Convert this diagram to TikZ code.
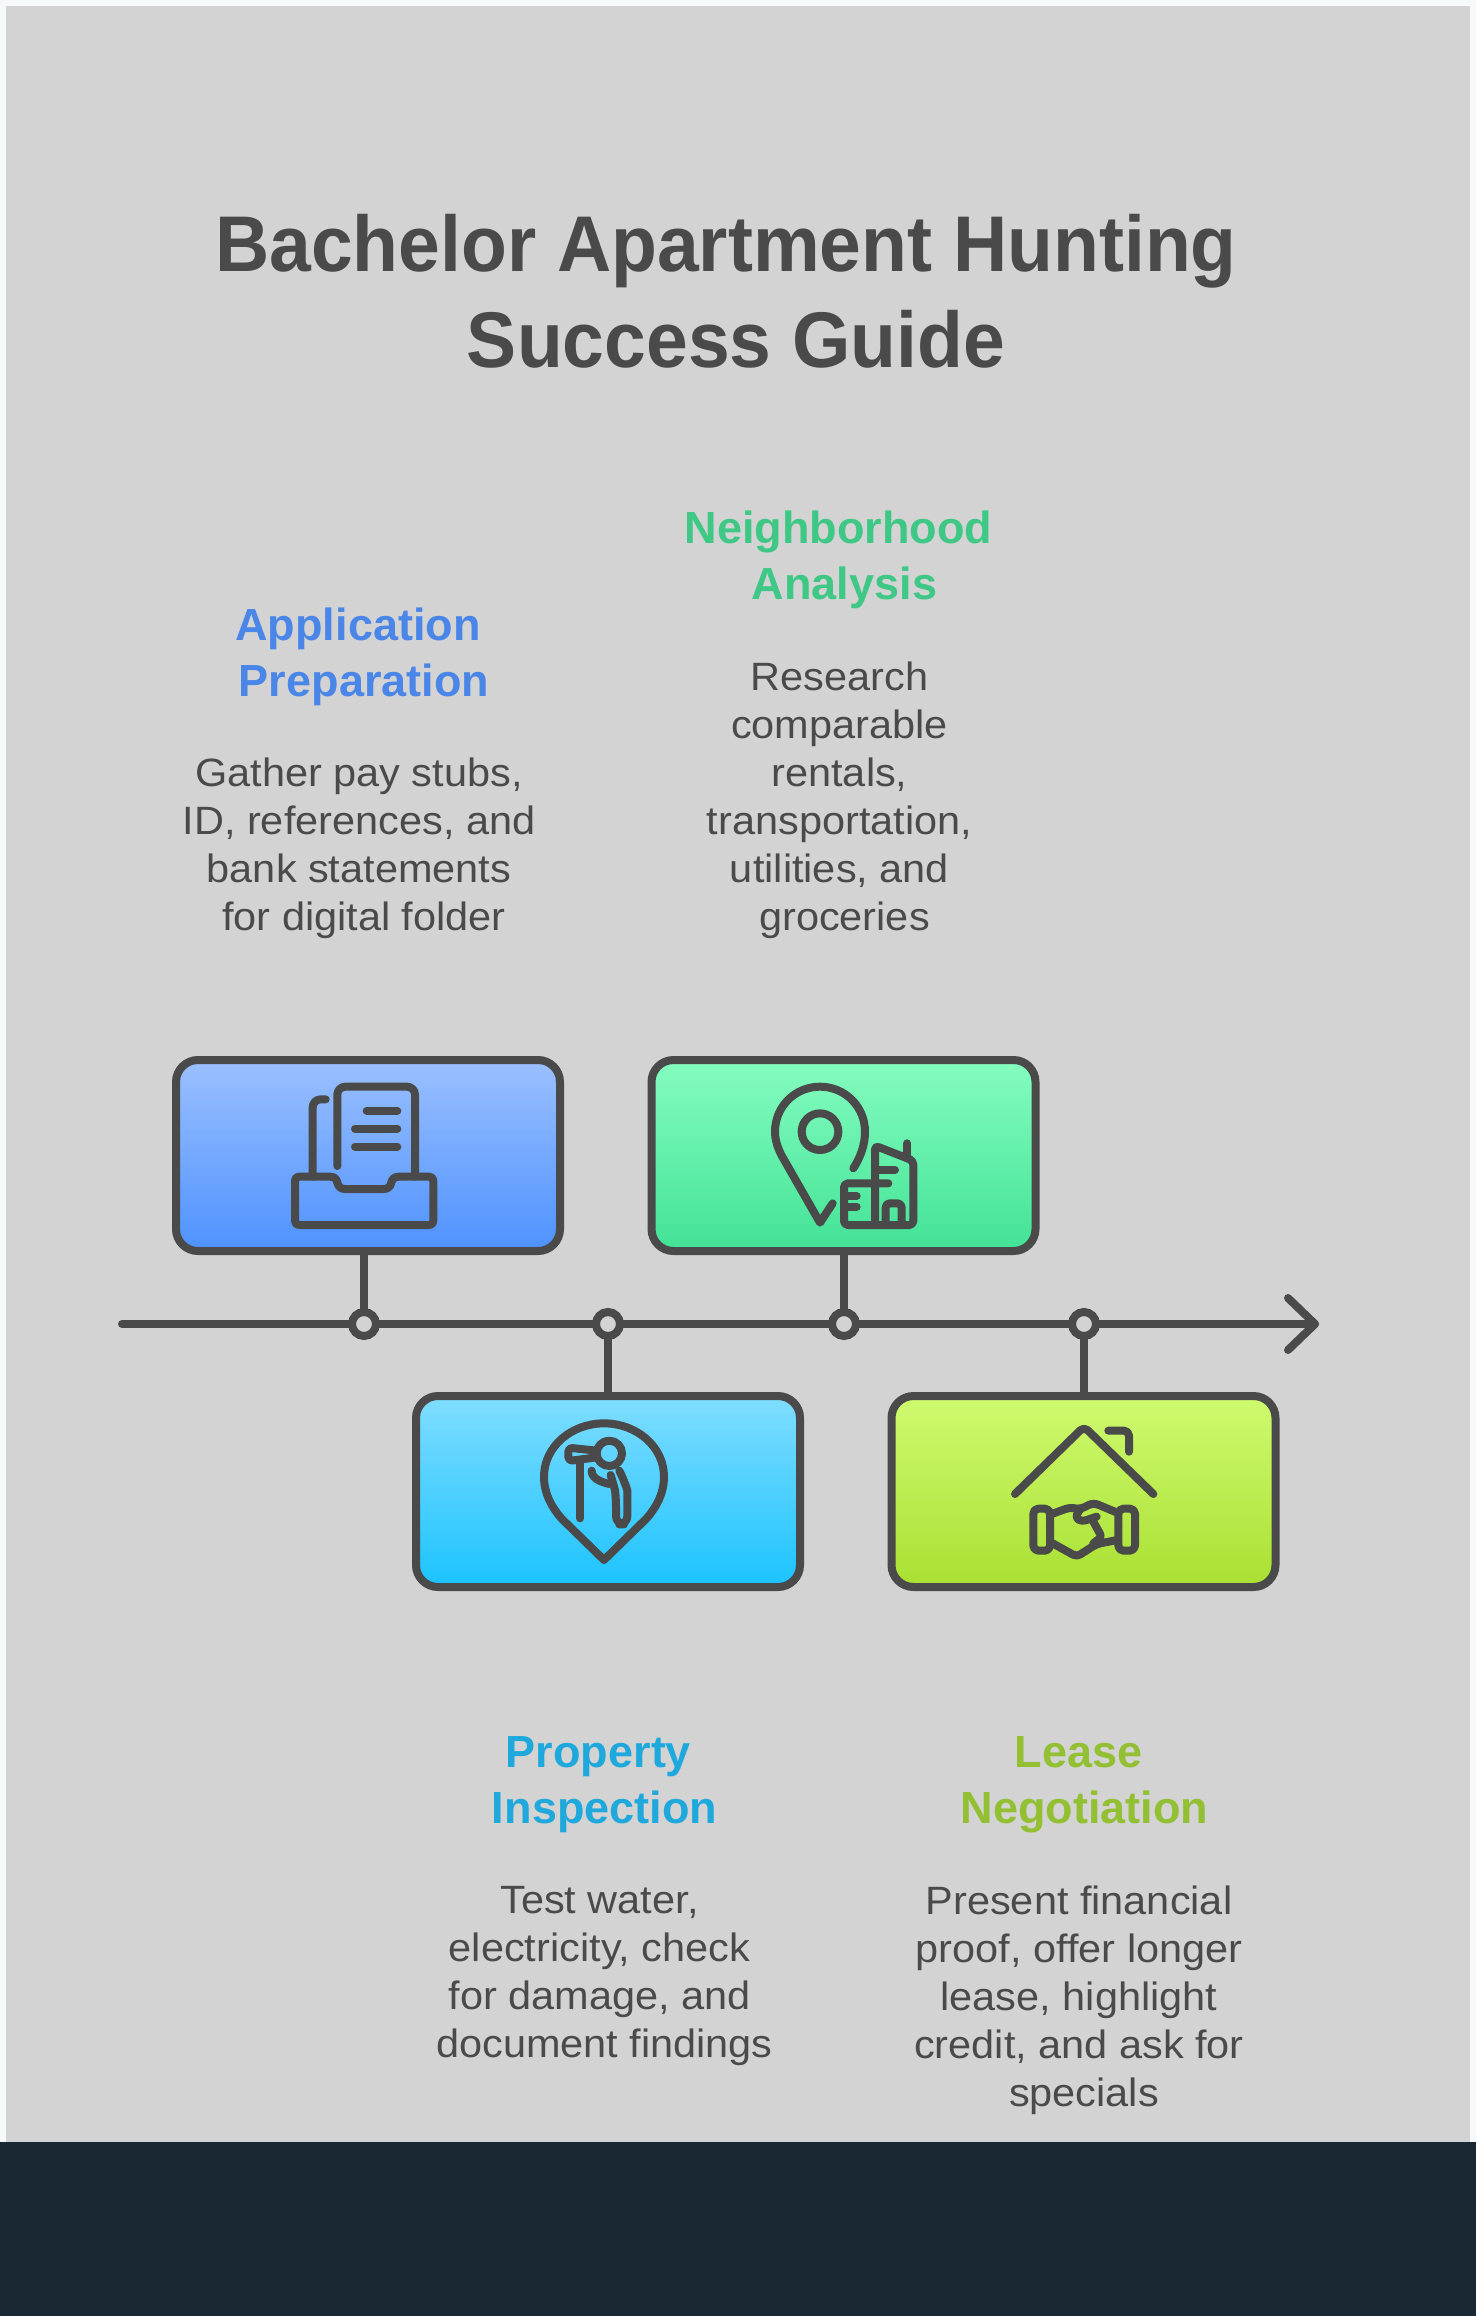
\documentclass[tikz,border=0pt]{standalone}
\usepackage{fontspec}
\setmainfont{Liberation Sans}
\newfontfamily\titlefont[FakeStretch=0.95]{Liberation Sans}
\newfontfamily\bodyfont[FakeStretch=1.05]{Liberation Sans}
\usetikzlibrary{calc}
\definecolor{ink}{HTML}{4A4A4A}
\definecolor{bgc}{HTML}{D3D3D3}
\definecolor{outerc}{HTML}{F6F9F9}
\definecolor{band}{HTML}{1A2833}
\definecolor{hblue}{HTML}{4A86E8}
\definecolor{hgreen}{HTML}{3EC785}
\definecolor{hcyan}{HTML}{1FA8DC}
\definecolor{hlime}{HTML}{93BF33}
\tikzset{
  stepbox/.style={draw=ink,line width=8pt,rounded corners=22pt,minimum width=384pt,minimum height=191pt,inner sep=0pt,outer sep=0pt},
  dot/.style={circle,draw=ink,fill=bgc,line width=8pt,minimum size=24pt,inner sep=0pt,outer sep=0pt},
  axisline/.style={draw=ink,line width=8pt,line cap=round,line join=round},
  icon/.style={draw=ink,line width=8pt,line cap=round,line join=round},
  titletext/.style={text=ink,font=\titlefont\fontsize{79}{96}\selectfont\bfseries,align=center,inner sep=0pt},
  headtext/.style={font=\fontsize{45}{56}\selectfont\bfseries,align=center,inner sep=0pt},
  bodytext/.style={text=ink,font=\bodyfont\fontsize{39.5}{48}\selectfont,align=center,inner sep=0pt},
  iconframe/.style={shift={#1},x=0.33333pt,y=-0.33333pt}
}
\begin{document}
\begin{tikzpicture}[x=1pt,y=-1pt]
\useasboundingbox (0,0) rectangle (1476,2316);
\fill[outerc] (0,0) rectangle (1476,2316);
\fill[bgc] (6,6) rectangle (1470,2142);
\fill[band] (0,2142) rectangle (1476,2316);
% title
\node[titletext,anchor=north] (title) at (731,214) {\hspace*{-10pt}Bachelor Apartment Hunting\\\hspace*{10pt}Success Guide};
% boxes
\node[stepbox,top color={rgb,255:red,155;green,192;blue,255},bottom color={rgb,255:red,78;green,146;blue,255}] (b1) at (368,1155.5) {};
\node[stepbox,top color={rgb,255:red,133;green,253;blue,192},bottom color={rgb,255:red,66;green,226;blue,150}] (b2) at (843.5,1155.5) {};
\node[stepbox,top color={rgb,255:red,128;green,221;blue,255},bottom color={rgb,255:red,27;green,195;blue,255}] (b3) at (608,1491.5) {};
\node[stepbox,top color={rgb,255:red,207;green,250;blue,112},bottom color={rgb,255:red,169;green,224;blue,50}] (b4) at (1083.5,1491.5) {};
% timeline
\coordinate (start) at (122,1324);
\coordinate (tip) at (1315,1324);
\coordinate (wa) at (1288,1298);
\coordinate (wb) at (1288,1350);
\node[dot] (d1) at (364,1324) {};
\node[dot] (d2) at (608,1324) {};
\node[dot] (d3) at (844,1324) {};
\node[dot] (d4) at (1084,1324) {};
\draw[axisline] (start) -- (d1.west);
\draw[axisline] (d1.east) -- (d2.west);
\draw[axisline] (d2.east) -- (d3.west);
\draw[axisline] (d3.east) -- (d4.west);
\draw[axisline] (d4.east) -- (tip);
\draw[axisline] (wa) -- (tip) -- (wb);
\draw[axisline,line cap=butt] (b1.south -| d1) -- (d1.north);
\draw[axisline,line cap=butt] (d2.south) -- (b3.north -| d2);
\draw[axisline,line cap=butt] (b2.south -| d3) -- (d3.north);
\draw[axisline,line cap=butt] (d4.south) -- (b4.north -| d4);
% icon 1
\begin{scope}[iconframe={(160,1040)}]
\draw[icon,rounded corners=8pt] (532,378) -- (532,140) -- (765,140) -- (765,410);
\draw[icon,rounded corners=8pt] (458,410) -- (458,178) -- (497,178);
\draw[icon] (420,410) -- (510,410) .. controls (525,410) and (530,418) .. (532,428) .. controls (535,442) and (545,447) .. (555,447) -- (670,447) .. controls (682,447) and (691,442) .. (694,428) .. controls (696,418) and (702,410) .. (717,410) -- (805,410) .. controls (815,410) and (820,415) .. (820,425) -- (820,540) .. controls (820,550) and (815,555) .. (805,555) -- (420,555) .. controls (410,555) and (405,550) .. (405,540) -- (405,425) .. controls (405,415) and (410,410) .. (420,410) -- cycle;
\draw[icon] (620,212) -- (712,212);
\draw[icon] (585,266) -- (712,266);
\draw[icon] (585,320) -- (712,320);
\end{scope}
% icon 2
\begin{scope}[iconframe={(640,1040)}]
\draw[icon] (640,385) .. controls (662,350) and (675,315) .. (675,275) .. controls (675,200) and (615,140) .. (540,140) .. controls (465,140) and (405,200) .. (405,275) .. controls (405,300) and (412,320) .. (424,345) -- (540,548) -- (578,490);
\draw[icon] (540,275) circle[radius=55];
\draw[icon,rounded corners=4pt] (745,430) -- (612,430) -- (612,555) -- (820,555) -- (820,362) -- (705,317) -- (705,540);
\draw[icon] (705,390) -- (765,390);
\draw[icon] (802,310) -- (802,355);
\draw[icon] (620,468) -- (650,468);
\draw[icon] (620,500) -- (650,500);
\draw[icon,rounded corners=4pt] (737,550) -- (737,490) -- (785,490) -- (785,550);
\end{scope}
% icon 3
\begin{scope}[iconframe={(400,1380)}]
\draw[icon] (612,130) .. controls (710,130) and (792,200) .. (792,290) .. controls (792,340) and (770,380) .. (740,415) -- (612,540) -- (484,415) .. controls (454,380) and (432,340) .. (432,290) .. controls (432,200) and (514,130) .. (612,130) -- cycle;
\draw[icon] (628,220) circle[radius=38];
\draw[icon,rounded corners=4pt] (590,212) -- (505,203) -- (505,243) -- (590,232);
\draw[icon] (540,243) -- (540,415);
\draw[icon] (575,272) .. controls (575,295) and (600,305) .. (628,312);
\draw[icon,rounded corners=8pt] (658,272) .. controls (672,300) and (682,330) .. (682,355) -- (682,433) -- (648,433) -- (648,355) .. controls (645,330) and (638,305) .. (632,285);
\end{scope}
% icon 4
\begin{scope}[iconframe={(880,1380)}]
\draw[icon,rounded corners=5pt] (405,342) -- (612,140) -- (820,342);
\draw[icon,rounded corners=5pt] (685,152) -- (747,152) -- (747,215);
\draw[icon,rounded corners=5pt] (460,386) rectangle (510,512);
\draw[icon,rounded corners=5pt] (715,386) rectangle (765,512);
\draw[icon,rounded corners=5pt] (515,402) -- (570,382) -- (600,388) -- (640,368) -- (712,398);
\draw[icon,rounded corners=4pt] (518,490) -- (590,530) -- (650,492) -- (712,480);
\draw[icon,rounded corners=4pt] (600,388) -- (585,412) -- (605,425) -- (650,410);
\draw[icon,rounded corners=3pt] (640,425) -- (665,470) -- (640,490);
\end{scope}
% labels
\node[headtext,text=hblue,anchor=north] (h1) at (361,608) {\hspace*{-6pt}Application\\\hspace*{6pt}Preparation};
\node[bodytext,anchor=north] (t1) at (359,757.5) {Gather pay stubs,\\ID, references, and\\bank statements\\\hspace*{10pt}for digital folder};
\node[headtext,text=hgreen,anchor=north] (h2) at (841.5,511) {\hspace*{-6pt}Neighborhood\\\hspace*{6pt}Analysis};
\node[bodytext,anchor=north] (t2) at (839.5,661.5) {Research\\comparable\\rentals,\\transportation,\\utilities, and\\\hspace*{10pt}groceries};
\node[headtext,text=hcyan,anchor=north] (h3) at (601.5,1736.5) {\hspace*{-6pt}Property\\\hspace*{6pt}Inspection};
\node[bodytext,anchor=north] (t3) at (599.5,1886) {Test water,\\electricity, check\\for damage, and\\\hspace*{10pt}document findings};
\node[headtext,text=hlime,anchor=north] (h4) at (1081.5,1736.5) {\hspace*{-6pt}Lease\\\hspace*{6pt}Negotiation};
\node[bodytext,anchor=north] (t4) at (1079,1885.5) {Present financial\\proof, offer longer\\lease, highlight\\credit, and ask for\\\hspace*{10pt}specials};
\end{tikzpicture}
\end{document}
